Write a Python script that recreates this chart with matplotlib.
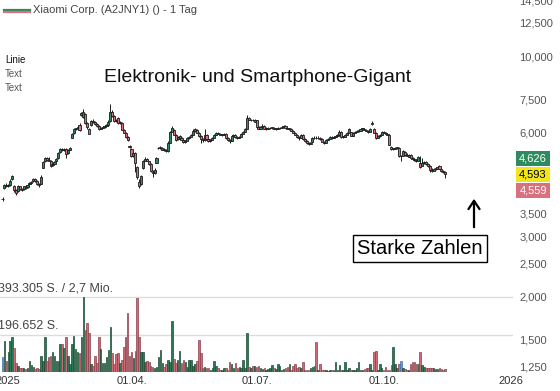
import numpy as np
import pandas as pd
import matplotlib
matplotlib.use("Agg")
import matplotlib.pyplot as plt
from matplotlib.patches import Rectangle, FancyArrowPatch
from matplotlib.lines import Line2D
from matplotlib.ticker import FixedLocator, FuncFormatter, NullLocator

plt.rcParams['font.family'] = ['Liberation Sans', 'DejaVu Sans']

# Xiaomi Corp. (A2JNY1), daily candles in EUR, first day 27.12.2024
start = '2024-12-27'

opens = [3.85,
    4.15, 4.23, 4.20, 4.22, 4.38,   4.20, 4.07, 4.05, 4.18, 4.12,   4.10, 4.18, 4.16, 4.24, 4.29,
    4.33, 4.40, 4.34, 4.26, 4.26,   4.74, 4.95, 5.06, 5.00, 4.97,   4.82, 4.87, 4.94, 5.05, 5.26,
    5.38, 5.35, 5.36, 5.22, 5.34,   5.80, 5.97, 6.15, 6.16, 6.31,   6.75, 6.64, 6.80, 6.40, 6.15,
    6.30, 6.48, 6.44, 6.36, 6.28,   6.15, 6.19, 6.22, 6.27, 6.31,   6.48, 6.88, 6.70, 6.50, 6.61,
    6.40, 6.40, 6.10, 5.99, 5.83,   5.49, 5.38, 5.13, 5.24, 4.75,   4.32, 4.25, 4.74, 4.97, 5.03,
    4.95, 4.85, 4.62, 4.58, 4.90,   5.40, 5.42, 5.34, 5.38, 5.34,   5.30, 5.60, 6.02, 6.10, 5.91,
    5.75, 5.76, 5.79, 5.71, 5.64,   5.67, 5.79, 5.83, 5.91, 6.07,   6.11, 5.99, 5.85, 5.75, 5.71,
    5.88, 5.75, 5.67, 5.71, 5.79,   5.91, 5.99, 5.95, 5.91, 5.91,   5.95, 5.79, 5.71, 5.67, 5.87,
    5.91, 5.83, 5.79, 5.83, 5.95,   6.02, 6.15, 6.61, 6.53, 6.53,   6.44, 6.50, 6.23, 6.15, 6.23,
    6.27, 6.15, 6.15, 6.19, 6.17,   6.19, 6.15, 6.15, 6.19, 6.19,   6.23, 6.27, 6.19, 6.15, 6.15,
    6.07, 5.99, 5.91, 5.83, 5.79,   5.91, 5.75, 5.67, 5.60, 5.56,   5.64, 5.79, 5.79, 5.78, 5.79,
    5.75, 5.64, 5.60, 5.71, 5.75,   5.83, 5.79, 5.83, 5.87, 5.91,   6.02, 5.83, 5.83, 5.91, 5.99,
    6.01, 5.86, 5.99, 6.02, 6.07,   6.07, 6.15, 6.15, 6.11, 6.07,   6.02, 6.36, 6.15, 5.99, 5.79,
    5.85, 5.91, 6.02, 5.99, 5.95,   5.91, 5.45, 5.38, 5.38, 5.42,   5.42, 5.13, 5.13, 5.28, 5.17,
    5.10, 5.17, 5.07, 5.03, 5.00,   4.97, 4.90, 4.80, 4.90, 4.93,   4.87, 4.80, 4.68, 4.65, 4.71,
    4.71, 4.80, 4.71, 4.65, 4.62]

highs = [3.90,
    4.26, 4.27, 4.24, 4.40, 4.52,   4.22, 4.10, 4.22, 4.20, 4.14,   4.20, 4.21, 4.26, 4.31, 4.35,
    4.43, 4.42, 4.36, 4.28, 4.50,   4.97, 5.10, 5.09, 5.08, 5.00,   4.90, 4.96, 5.06, 5.27, 5.42,
    5.40, 5.41, 5.40, 5.36, 5.46,   5.99, 6.18, 6.20, 6.30, 6.38,   6.90, 7.03, 6.82, 6.42, 6.18,
    6.52, 6.56, 6.47, 6.40, 6.30,   6.24, 6.26, 6.30, 6.34, 6.50,   7.26, 6.95, 6.74, 6.56, 6.66,
    6.46, 6.42, 6.12, 6.00, 5.86,   5.52, 5.40, 5.27, 5.28, 4.80,   4.40, 4.52, 5.00, 5.10, 5.06,
    4.97, 4.88, 4.66, 4.72, 5.10,   5.46, 5.48, 5.44, 5.40, 5.36,   5.65, 6.06, 6.26, 6.12, 5.93,
    5.86, 5.88, 5.82, 5.74, 5.70,   5.82, 5.86, 5.95, 6.15, 6.19,   6.14, 6.00, 5.88, 5.78, 6.15,
    5.92, 5.78, 5.74, 5.82, 5.93,   6.02, 6.03, 5.98, 5.95, 5.98,   5.97, 5.82, 5.73, 5.89, 5.94,
    5.93, 5.86, 5.85, 5.97, 6.05,   6.17, 6.75, 6.64, 6.58, 6.57,   6.55, 6.52, 6.26, 6.27, 6.34,
    6.29, 6.21, 6.23, 6.23, 6.24,   6.21, 6.18, 6.22, 6.23, 6.26,   6.30, 6.29, 6.21, 6.19, 6.17,
    6.09, 6.01, 5.93, 5.86, 5.94,   5.93, 5.78, 5.69, 5.62, 5.64,   5.83, 5.85, 5.84, 5.86, 5.82,
    5.77, 5.67, 5.73, 5.78, 5.86,   5.85, 5.86, 5.90, 5.94, 6.08,   6.04, 5.87, 5.94, 6.01, 6.17,
    6.03, 6.02, 6.05, 6.10, 6.11,   6.18, 6.20, 6.17, 6.13, 6.10,   6.18, 6.46, 6.18, 6.00, 5.88,
    5.93, 6.04, 6.05, 6.01, 5.98,   5.93, 5.47, 5.42, 5.44, 5.46,   5.44, 5.16, 5.34, 5.30, 5.24,
    5.20, 5.19, 5.09, 5.05, 5.02,   5.14, 5.12, 5.05, 4.96, 4.95,   4.90, 4.82, 4.72, 4.74, 4.76,
    4.80, 4.83, 4.73, 4.68, 4.64]

lows = [3.80,
    4.12, 4.17, 4.17, 4.20, 4.36,   4.04, 3.96, 4.03, 4.09, 4.06,   4.08, 4.12, 4.14, 4.22, 4.26,
    4.31, 4.32, 4.22, 4.16, 4.24,   4.72, 4.92, 4.97, 4.94, 4.76,   4.78, 4.85, 4.92, 5.03, 5.24,
    5.30, 5.31, 5.07, 5.20, 5.32,   5.78, 5.95, 6.10, 6.14, 6.05,   6.70, 6.60, 6.36, 6.15, 5.92,
    6.28, 6.40, 6.30, 6.22, 6.10,   6.12, 6.17, 6.20, 6.25, 6.28,   6.45, 6.66, 6.45, 6.44, 6.36,
    6.34, 6.08, 5.96, 5.80, 5.68,   5.40, 5.10, 5.10, 4.59, 4.40,   4.15, 4.22, 4.70, 4.95, 4.94,
    4.84, 4.62, 4.45, 4.55, 4.88,   5.36, 5.38, 5.32, 5.30, 5.26,   5.28, 5.58, 6.00, 5.88, 5.68,
    5.72, 5.74, 5.68, 5.60, 5.60,   5.65, 5.76, 5.81, 5.89, 6.02,   5.97, 5.81, 5.60, 5.62, 5.66,
    5.72, 5.64, 5.62, 5.69, 5.77,   5.89, 5.92, 5.88, 5.86, 5.89,   5.76, 5.68, 5.60, 5.65, 5.84,
    5.80, 5.76, 5.77, 5.81, 5.93,   6.00, 6.13, 6.50, 6.48, 6.49,   6.42, 6.20, 6.12, 6.13, 6.21,
    6.12, 6.11, 6.13, 6.15, 6.15,   6.12, 6.10, 6.13, 6.15, 6.17,   6.21, 6.16, 6.12, 6.11, 6.04,
    5.96, 5.88, 5.80, 5.72, 5.77,   5.72, 5.62, 5.55, 5.52, 5.54,   5.62, 5.75, 5.74, 5.76, 5.72,
    5.62, 5.56, 5.58, 5.69, 5.73,   5.76, 5.77, 5.81, 5.85, 5.89,   5.80, 5.78, 5.81, 5.89, 5.97,
    5.84, 5.84, 5.97, 6.00, 6.03,   6.05, 6.11, 6.08, 6.04, 5.99,   6.00, 6.32, 5.97, 5.76, 5.77,
    5.83, 5.89, 5.96, 5.92, 5.89,   5.50, 5.34, 5.34, 5.36, 5.38,   5.10, 4.97, 5.11, 5.13, 5.11,
    5.08, 5.04, 4.98, 4.95, 4.92,   4.95, 4.74, 4.78, 4.86, 4.84,   4.76, 4.62, 4.62, 4.63, 4.68,
    4.69, 4.69, 4.62, 4.58, 4.41]

closes = [3.85,
    4.23, 4.20, 4.21, 4.35, 4.49,   4.07, 4.01, 4.20, 4.12, 4.09,   4.18, 4.15, 4.23, 4.29, 4.32,
    4.40, 4.35, 4.26, 4.23, 4.46,   4.93, 5.07, 5.00, 4.97, 4.80,   4.87, 4.93, 5.03, 5.24, 5.38,
    5.34, 5.38, 5.20, 5.34, 5.42,   5.95, 6.15, 6.16, 6.23, 6.10,   6.82, 6.86, 6.40, 6.23, 5.95,
    6.48, 6.44, 6.36, 6.27, 6.15,   6.19, 6.23, 6.27, 6.31, 6.45,   6.88, 6.70, 6.48, 6.48, 6.40,
    6.44, 6.11, 5.99, 5.83, 5.71,   5.45, 5.13, 5.24, 4.90, 4.46,   4.20, 4.49, 4.97, 5.03, 4.97,
    4.87, 4.65, 4.56, 4.68, 5.07,   5.42, 5.43, 5.40, 5.34, 5.29,   5.60, 6.02, 6.19, 5.91, 5.71,
    5.83, 5.84, 5.71, 5.64, 5.67,   5.79, 5.83, 5.91, 6.07, 6.15,   5.99, 5.85, 5.75, 5.70, 5.91,
    5.75, 5.67, 5.71, 5.79, 5.91,   5.99, 5.95, 5.91, 5.92, 5.95,   5.79, 5.71, 5.67, 5.87, 5.91,
    5.83, 5.79, 5.83, 5.95, 6.02,   6.15, 6.61, 6.53, 6.54, 6.52,   6.52, 6.23, 6.15, 6.23, 6.27,
    6.15, 6.16, 6.19, 6.20, 6.21,   6.15, 6.16, 6.19, 6.20, 6.23,   6.27, 6.19, 6.15, 6.16, 6.07,
    5.99, 5.91, 5.83, 5.79, 5.91,   5.75, 5.67, 5.60, 5.56, 5.60,   5.79, 5.80, 5.78, 5.79, 5.75,
    5.64, 5.60, 5.71, 5.75, 5.83,   5.79, 5.83, 5.87, 5.91, 6.02,   5.83, 5.84, 5.91, 5.99, 6.13,
    5.86, 5.99, 6.02, 6.07, 6.08,   6.15, 6.16, 6.11, 6.07, 6.02,   6.15, 6.38, 5.99, 5.79, 5.85,
    5.91, 6.02, 5.99, 5.95, 5.91,   5.52, 5.38, 5.39, 5.42, 5.43,   5.13, 5.13, 5.31, 5.17, 5.13,
    5.17, 5.07, 5.03, 5.00, 4.97,   5.10, 4.77, 4.90, 4.93, 4.87,   4.80, 4.68, 4.65, 4.71, 4.72,
    4.77, 4.71, 4.65, 4.62, 4.55]

# volume in thousand shares
volume = [80, 165, 58, 106, 165, 181, 128, 48, 32, 20,
    20, 20, 14, 20, 58, 37, 27, 18, 20, 14, 85,
    58, 186, 58, 80, 85, 106, 85, 58, 58, 149,
    149, 128, 181, 85, 43, 149, 191, 122, 106, 101,
    186, 393, 218, 255, 207, 43, 30, 85, 48, 181, 122,
    48, 48, 80, 117, 234, 101, 43, 96, 101, 48,
    64, 133, 181, 308, 85, 106, 74, 112, 388, 186,
    106, 106, 53, 58, 53, 32, 25, 20, 27, 80, 117,
    48, 27, 43, 64, 53, 266, 69, 48, 64, 112,
    48, 64, 53, 27, 64, 64, 32, 43, 58, 170,
    101, 22, 27, 20, 20, 10, 20, 58, 32, 20, 10,
    10, 20, 20, 10, 53, 43, 20, 48, 20, 27,
    20, 64, 20, 207, 27, 20, 32, 32, 27, 32,
    20, 15, 20, 10, 14, 20, 37, 20, 14, 43,
    32, 9, 14, 20, 27, 41, 12,
    32, 41, 20, 27, 20, 50, 9, 9, 12,
    20, 27, 32, 156, 9, 41, 9, 9, 9, 5, 12,
    9, 9, 50, 9, 37, 9, 9, 50, 9, 20, 12,
    9, 9, 20, 55, 9, 9, 14, 20, 20, 44, 12,
    103, 108, 9, 44, 20, 9, 27, 9, 12,
    37, 133, 41, 20, 44, 58,
    20, 14, 9, 9, 44, 50, 55, 41, 44, 103, 37, 27, 20, 23, 20, 20, 20, 14, 14, 20, 14, 9, 14]

vol_grid = [196.652, 393.305]
vol_labels = ['196.652 S.', '393.305 S. / 2,7 Mio.']

price_ticks = [1.25, 1.5, 2.0, 2.5, 3.0, 3.5, 6.0, 7.5, 10.0, 12.5, 14.5]
date_ticks = ['2025-01-01', '2025-04-01', '2025-07-01', '2025-10-01', '2026-01-01']
date_labels = ['2025', '01.04.', '01.07.', '01.10.', '2026']

badge_vals = [4.626, 4.593, 4.559]

title = 'Elektronik- und Smartphone-Gigant'
legend_text = 'Xiaomi Corp. (A2JNY1) () - 1 Tag'
note_text = 'Starke Zahlen'

GREEN = '#2f8a5f'
RED = '#d9707e'
BLUE = '#6a98dc'

o = np.array(opens)
h = np.array(highs)
l = np.array(lows)
c = np.array(closes)
v = np.array(volume)
x = np.arange(len(c))

flat = np.isclose(o, c)
up = (c > o) & ~flat
body_col = np.where(up, GREEN, RED)
vol_col = np.where(flat, BLUE, np.where(up, '#2b7a55', '#cf6b77'))
vol_edge = np.where(flat, '#3d6fb5', np.where(up, '#1c4d37', '#8c3f49'))

W, H = 560, 391
fig = plt.figure(figsize=(W / 100, H / 100), dpi=100)
rect = [0, 19 / H, 513 / W, 372 / H]
ax = fig.add_axes(rect)

# price candles on log scale
ax.set_yscale('log')
ax.vlines(x, l, h, color='#1a1a1a', lw=0.7, zorder=2)
ax.bar(x, np.abs(c - o), bottom=np.minimum(o, c), width=1.1,
       color=body_col, edgecolor='#1a1a1a', linewidth=0.6, zorder=3)

ax.set_xlim(-1.3, 265.2)
ax.set_ylim(1.2084, 14.55)

ax.yaxis.tick_right()
ax.yaxis.set_major_locator(FixedLocator(price_ticks))
ax.yaxis.set_minor_locator(NullLocator())
ax.yaxis.set_major_formatter(FuncFormatter(lambda val, _: f'{val:.3f}'.replace('.', ',')))
ax.tick_params(axis='y', length=0, pad=4.5, labelsize=8, labelcolor='#555555')

tick_pos = [np.busday_count(start, d) for d in date_ticks]
ax.set_xticks(tick_pos)
ax.set_xticklabels(date_labels)
ax.tick_params(axis='x', length=0, pad=3, labelsize=8, labelcolor='#333333')
for s in ax.spines.values():
    s.set_visible(False)

# volume overlay
ax2 = fig.add_axes(rect, sharex=ax)
ax2.patch.set_visible(False)
ax2.set_ylim(0, vol_grid[1] * 372 / 75)
for g, t in zip(vol_grid, vol_labels):
    ax2.axhline(g, color='#dcdcdc', lw=1, zorder=0)
    ax2.text(-0.004, g + 12, t, transform=ax2.get_yaxis_transform(),
             ha='left', va='bottom', fontsize=9, color='#444444', clip_on=False)
ax2.bar(x, v, width=0.8, color=vol_col, edgecolor=vol_edge, linewidth=0.5, zorder=2)
ax2.axis('off')

# price badges on the right
fig.canvas.draw()
yc = ax.transData.transform((0, c[-1]))[1]
bh = 16
badge_style = [(GREEN, 'white', bh), ('#f2e51c', 'black', 0), (RED, 'white', -bh)]
for val, (fc, tc, off) in zip(badge_vals, badge_style):
    cy = yc + off
    fig.add_artist(Rectangle((516 / W, (cy - bh / 2) / H), 34 / W, (bh - 1) / H,
                             transform=fig.transFigure, facecolor=fc, edgecolor='none'))
    fig.text(533 / W, (cy - 0.5) / H, f'{val:.3f}'.replace('.', ','), ha='center', va='center',
             fontsize=8, color=tc)

# legend header
fig.add_artist(Line2D([4 / W, 30 / W], [1 - 9.5 / H] * 2, color=GREEN, lw=1.6))
fig.add_artist(Line2D([4 / W, 30 / W], [1 - 12 / H] * 2, color=RED, lw=1.6))
fig.text(33 / W, 1 - 10 / H, legend_text, ha='left', va='center', fontsize=8, color='#444444')

fig.text(5 / W, 1 - 60 / H, 'Linie', ha='left', va='center', fontsize=7, color='#111111')
fig.text(5 / W, 1 - 74 / H, 'Text', ha='left', va='center', fontsize=7, color='#555555')
fig.text(5 / W, 1 - 88 / H, 'Text', ha='left', va='center', fontsize=7, color='#555555')

fig.text(258 / W, 1 - 78 / H, title, ha='center', va='center', fontsize=14, color='#111111')

# annotation box and arrow
fig.add_artist(Rectangle((353 / W, 1 - 262 / H), 134 / W, 27 / H, transform=fig.transFigure,
                         facecolor='white', edgecolor='black', lw=1))
fig.text(420 / W, 1 - 248.5 / H, note_text, ha='center', va='center', fontsize=14.5, color='black')
fig.add_artist(FancyArrowPatch(
    (474 / W, 1 - 230 / H), (474 / W, 1 - 196 / H), transform=fig.transFigure,
    arrowstyle='->,head_length=6,head_width=4', lw=1.6, color='black', mutation_scale=1))

fig.savefig('out.png', dpi=100)
